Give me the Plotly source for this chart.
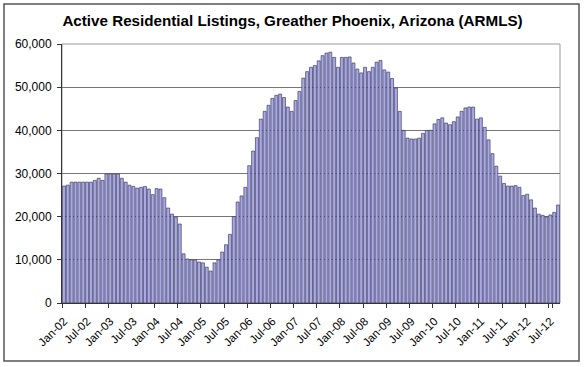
import plotly.graph_objects as go

month_names = ["Jan", "Feb", "Mar", "Apr", "May", "Jun",
               "Jul", "Aug", "Sep", "Oct", "Nov", "Dec"]
years = ["02", "03", "04", "05", "06", "07", "08", "09", "10", "11", "12"]
months = [f"{m}-{y}" for y in years for m in month_names][:129]

listings = [
    27100, 27300, 28000, 28000, 28000, 28000, 28000, 28000, 28400, 28900, 28400, 29900,  # 2002
    29900, 29900, 29900, 28900, 28000, 27300, 27000, 26600, 26800, 27000, 26400, 25100,  # 2003
    26500, 26400, 24400, 22000, 20600, 19900, 18300, 11400, 10200, 10000, 10000, 9500,   # 2004
    9300, 8300, 7400, 9300, 10000, 11800, 13500, 15900, 20000, 23400, 24800, 26800,      # 2005
    31800, 35200, 38300, 42600, 44400, 45800, 47400, 48100, 48400, 47600, 45400, 44400,  # 2006
    46900, 49000, 52100, 53600, 54600, 55000, 56100, 57300, 57900, 58100, 56900, 54600,  # 2007
    56900, 56900, 57000, 55600, 54200, 53300, 54600, 53600, 54600, 55800, 56200, 54000,  # 2008
    53500, 52000, 49800, 44400, 40000, 38200, 38000, 38000, 38200, 39300, 40000, 40000,  # 2009
    41500, 42500, 42900, 41700, 41300, 42000, 43100, 44400, 45200, 45400, 45400, 42600,  # 2010
    42900, 40700, 37800, 34600, 31700, 29400, 27700, 27100, 27100, 27200, 26800, 24900,  # 2011
    25200, 23900, 22000, 20600, 20300, 19900, 20400, 21000, 22700,                       # 2012
]

tick_labels = months[::6]
y_ticks = [0, 10000, 20000, 30000, 40000, 50000, 60000]

fig = go.Figure()
fig.add_trace(go.Bar(
    x=months, y=listings,
    marker=dict(color="#a9a9e6", line=dict(color="#2a2a4c", width=0.6)),
    hoverinfo="x+y",
))

W, H = 585, 367
L, R, T, B = 62, 25, 44, 64
pw, ph = W - L - R, H - T - B

def px_x(x):
    return (x - L) / pw

def px_y(y):
    return (H - B - y) / ph

fig.update_layout(
    width=W, height=H,
    margin=dict(l=L, r=R, t=T, b=B),
    paper_bgcolor="white", plot_bgcolor="white",
    bargap=0.22,
    showlegend=False,
    font=dict(family="Liberation Sans, Arial, sans-serif", color="black"),
    title=dict(
        text="<b>Active Residential Listings, Greather Phoenix, Arizona (ARMLS)</b>",
        x=0.5, xref="container", xanchor="center",
        y=1 - 21 / H, yanchor="middle",
        font=dict(size=15.2, family="Liberation Sans, Arial, sans-serif", color="black"),
    ),
    xaxis=dict(
        type="category",
        tickmode="array", tickvals=tick_labels, ticktext=tick_labels,
        tickangle=-45, tickfont=dict(size=11.5), ticklabelstandoff=6,
        ticks="outside", ticklen=4, tickcolor="#333", tickson="boundaries",
        showline=True, linecolor="#333", linewidth=1,
        showgrid=False, range=[-0.5, len(months) - 0.5],
    ),
    yaxis=dict(
        range=[0, 60000], tickvals=y_ticks, tickformat=",",
        tickfont=dict(size=12), ticklabelstandoff=3,
        ticks="outside", ticklen=4, tickcolor="#333",
        showline=True, linecolor="#333", linewidth=1,
        showgrid=True, gridcolor="#777", gridwidth=1,
        zeroline=False,
    ),
    shapes=[
        dict(type="rect", xref="paper", yref="paper", x0=0, x1=1, y0=0, y1=1,
             line=dict(color="#999", width=1), layer="below"),
        dict(type="rect", xref="paper", yref="paper",
             x0=px_x(4), x1=px_x(579), y0=px_y(361), y1=px_y(4),
             line=dict(color="#555", width=1.5)),
    ],
)

fig.write_html("out.html", config={"displayModeBar": False},
               post_script="document.body.style.margin='0';")
